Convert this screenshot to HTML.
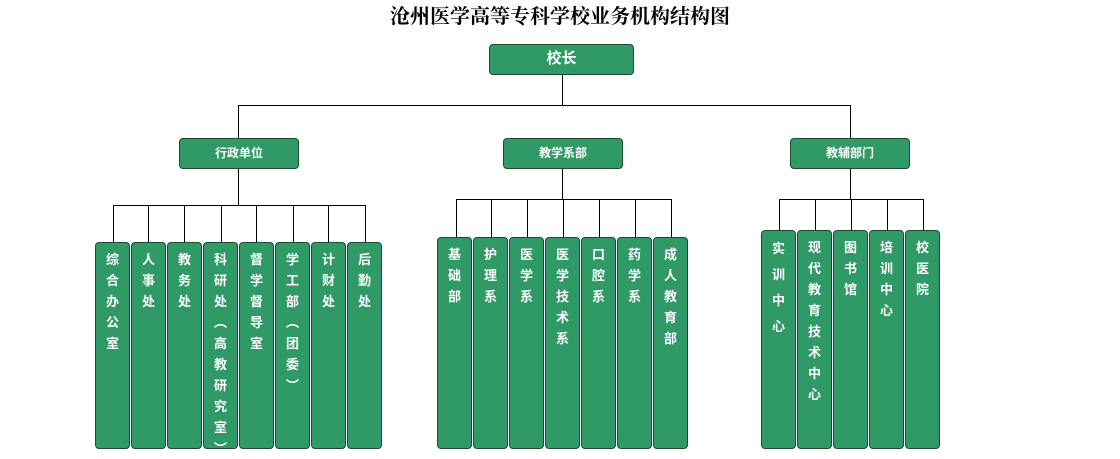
<!DOCTYPE html>
<html><head><meta charset="utf-8"><style>
body{margin:0;width:1120px;height:454px;background:#fff;position:relative;overflow:hidden;font-family:"Liberation Sans","Noto Sans CJK SC",sans-serif}
.t{position:absolute;left:0;width:1120px;top:0px;text-align:center;font-family:"Liberation Serif","Noto Serif CJK SC",serif;font-weight:bold;font-size:20px;color:#000}
.b{position:absolute;background:#309a66;border:1px solid #1e4a30;border-radius:4px;box-sizing:border-box;color:#fff;font-weight:bold}
.h{text-align:center;font-size:12px;line-height:28px}
.v{width:35px;text-align:center;font-size:13px;line-height:21px;padding-top:6px}
.l{position:absolute;background:#000}
</style></head><body>
<div class="t">沧州医学高等专科学校业务机构结构图</div>
<div class="b h" style="left:489px;top:44px;width:145px;height:31px;font-size:15px">校长</div>
<div class="l" style="left:562px;top:75px;width:1px;height:31px"></div>
<div class="l" style="left:238px;top:105px;width:613px;height:1px"></div>
<div class="l" style="left:238px;top:105px;width:1px;height:33px"></div>
<div class="l" style="left:850px;top:105px;width:1px;height:33px"></div>
<div class="b h" style="left:179px;top:138px;width:120px;height:31px">行政单位</div>
<div class="b h" style="left:503px;top:138px;width:120px;height:31px">教学系部</div>
<div class="b h" style="left:790px;top:138px;width:120px;height:31px">教辅部门</div>
<div class="l" style="left:238px;top:169px;width:1px;height:36px"></div>
<div class="l" style="left:562px;top:169px;width:1px;height:30px"></div>
<div class="l" style="left:850px;top:169px;width:1px;height:30px"></div>
<div class="l" style="left:113px;top:205px;width:253px;height:1px"></div>
<div class="l" style="left:456px;top:199px;width:216px;height:1px"></div>
<div class="l" style="left:779px;top:199px;width:145px;height:1px"></div>
<div class="l" style="left:113px;top:205px;width:1px;height:37px"></div>
<div class="l" style="left:148px;top:205px;width:1px;height:37px"></div>
<div class="l" style="left:184px;top:205px;width:1px;height:37px"></div>
<div class="l" style="left:221px;top:205px;width:1px;height:37px"></div>
<div class="l" style="left:256px;top:205px;width:1px;height:37px"></div>
<div class="l" style="left:293px;top:205px;width:1px;height:37px"></div>
<div class="l" style="left:328px;top:205px;width:1px;height:37px"></div>
<div class="l" style="left:365px;top:205px;width:1px;height:37px"></div>
<div class="l" style="left:456px;top:199px;width:1px;height:38px"></div>
<div class="l" style="left:491px;top:199px;width:1px;height:38px"></div>
<div class="l" style="left:527px;top:199px;width:1px;height:38px"></div>
<div class="l" style="left:563px;top:199px;width:1px;height:38px"></div>
<div class="l" style="left:599px;top:199px;width:1px;height:38px"></div>
<div class="l" style="left:635px;top:199px;width:1px;height:38px"></div>
<div class="l" style="left:671px;top:199px;width:1px;height:38px"></div>
<div class="l" style="left:779px;top:199px;width:1px;height:31px"></div>
<div class="l" style="left:815px;top:199px;width:1px;height:31px"></div>
<div class="l" style="left:851px;top:199px;width:1px;height:31px"></div>
<div class="l" style="left:887px;top:199px;width:1px;height:31px"></div>
<div class="l" style="left:923px;top:199px;width:1px;height:31px"></div>
<div class="b v" style="left:95px;top:242px;height:207px">综<br>合<br>办<br>公<br>室</div>
<div class="b v" style="left:131px;top:242px;height:207px">人<br>事<br>处</div>
<div class="b v" style="left:167px;top:242px;height:207px">教<br>务<br>处</div>
<div class="b v" style="left:203px;top:242px;height:207px">科<br>研<br>处<br>︵<br>高<br>教<br>研<br>究<br>室<br>︶</div>
<div class="b v" style="left:239px;top:242px;height:207px">督<br>学<br>督<br>导<br>室</div>
<div class="b v" style="left:275px;top:242px;height:207px">学<br>工<br>部<br>︵<br>团<br>委<br>︶</div>
<div class="b v" style="left:311px;top:242px;height:207px">计<br>财<br>处</div>
<div class="b v" style="left:347px;top:242px;height:207px">后<br>勤<br>处</div>
<div class="b v" style="left:437px;top:237px;height:212px">基<br>础<br>部</div>
<div class="b v" style="left:473px;top:237px;height:212px">护<br>理<br>系</div>
<div class="b v" style="left:509px;top:237px;height:212px">医<br>学<br>系</div>
<div class="b v" style="left:545px;top:237px;height:212px">医<br>学<br>技<br>术<br>系</div>
<div class="b v" style="left:581px;top:237px;height:212px">口<br>腔<br>系</div>
<div class="b v" style="left:617px;top:237px;height:212px">药<br>学<br>系</div>
<div class="b v" style="left:653px;top:237px;height:212px">成<br>人<br>教<br>育<br>部</div>
<div class="b v" style="left:761px;top:230px;height:219px;line-height:26px;padding-top:5px">实<br>训<br>中<br>心</div>
<div class="b v" style="left:797px;top:230px;height:219px">现<br>代<br>教<br>育<br>技<br>术<br>中<br>心</div>
<div class="b v" style="left:833px;top:230px;height:219px">图<br>书<br>馆</div>
<div class="b v" style="left:869px;top:230px;height:219px">培<br>训<br>中<br>心</div>
<div class="b v" style="left:905px;top:230px;height:219px">校<br>医<br>院</div>
</body></html>
